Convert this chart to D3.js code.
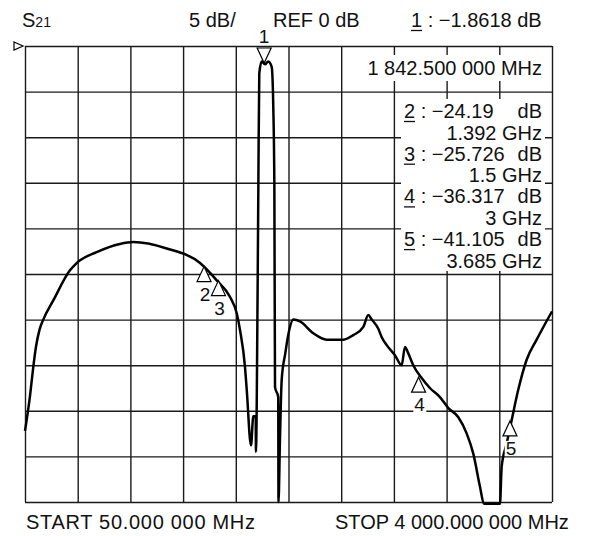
<!DOCTYPE html>
<html lang="en">
<head>
<meta charset="utf-8"/>
<title>S21 sweep</title>
<script src="https://d3js.org/d3.v7.min.js"></script>
<style>
  body { margin: 0; background: #fff; }
  svg { display: block; }
  svg text { font-family: "Liberation Sans", Arial, sans-serif; fill: #111; }
  .grid line { stroke: #1a1a1a; stroke-width: 1.4; }
  .grid .domain { display: none; }
  .trace { fill: none; stroke: #000; stroke-width: 2.5; stroke-linejoin: round; }
</style>
</head>
<body>
<div id="chart"></div>
<script>
// sweep, MHz / dB
var freqMHz = [50, 88, 112, 132, 159, 187, 262, 387, 437, 587, 762, 862, 1112, 1362, 1487, 1586, 1637, 1661,
  1699, 1712, 1744, 1761, 1779, 1781, 1794, 1799, 1806, 1824, 1849, 1873, 1899, 1911, 1919, 1924,
  1948, 1950, 1961, 1974, 2001, 2023, 2061, 2111, 2211, 2311, 2436, 2511, 2586, 2623, 2649, 2698,
  2723, 2761, 2823, 2873, 2898, 2923, 2960, 3023, 3085, 3160, 3223, 3298, 3361, 3410, 3460, 3490,
  3610, 3623, 3660, 3698, 3747, 3810, 3885, 4000];
var s21dB = [-42.2, -38.3, -35.2, -33.0, -31.1, -30.0, -27.9, -24.6, -23.8, -22.6, -21.7, -21.5, -22.2, -23.8, -25.7, -27.5, -29.3, -31.1,
  -35.2, -37.7, -43.8, -40.6, -40.6, -44.5, -25.7, -15.4, -3.0, -1.7, -2.0, -1.7, -2.3, -6.7, -15.4, -37.4,
  -38.5, -50.0, -43.2, -36.6, -33.7, -31.7, -30.0, -30.2, -31.5, -32.2, -32.2, -31.7, -30.8, -29.5, -30.0, -31.0,
  -31.9, -32.8, -33.9, -35.0, -33.0, -33.7, -35.0, -36.4, -37.5, -38.5, -39.7, -40.7, -42.5, -44.7, -48.3, -50.2,
  -50.2, -46.1, -43.6, -41.0, -37.7, -34.4, -32.2, -29.1];

var markerNo = ["1", "2", "3", "4", "5"];
var markerMHz = [1842.5, 1392, 1500, 3000, 3685];
var markerDb = [-1.8618, -24.19, -25.726, -36.317, -41.105];
var markerDbText = ["\u22121.8618", "\u221224.19", "\u221225.726", "\u221236.317", "\u221241.105"];
var markerFreqText = ["1 842.500 000 MHz", "1.392 GHz", "1.5 GHz", "3 GHz", "3.685 GHz"];

var xGrid = [50, 445, 840, 1235, 1630, 2025, 2420, 2815, 3210, 3605, 4000];
var yGrid = [0, -5, -10, -15, -20, -25, -30, -35, -40, -45, -50];

var width = 601, height = 536;
var m = {left: 25, right: 552, top: 46, bottom: 502};

var svg = d3.select("#chart").append("svg")
  .attr("width", width)
  .attr("height", height);

var x = d3.scaleLinear().domain([50, 4000]).range([m.left, m.right]);
var y = d3.scaleLinear().domain([0, -50]).range([m.top, m.bottom]);

// grid
svg.append("g")
  .attr("class", "grid")
  .attr("transform", "translate(0," + m.bottom + ")")
  .call(d3.axisBottom(x).tickValues(xGrid).tickSize(-(m.bottom - m.top)).tickFormat(""));
svg.append("g")
  .attr("class", "grid")
  .attr("transform", "translate(" + m.left + ",0)")
  .call(d3.axisLeft(y).tickValues(yGrid).tickSize(-(m.right - m.left)).tickFormat(""));

// reference level arrow
svg.append("path")
  .attr("d", "M" + (m.left - 11) + "," + (y(0) - 4) + "L" + (m.left - 2) + "," + y(0) + "L" + (m.left - 11) + "," + (y(0) + 4) + "Z")
  .attr("fill", "#fff").attr("stroke", "#000").attr("stroke-width", 1.2);

// readout boxes sit over the grid
svg.append("rect").attr("x", 352).attr("y", 55).attr("width", 193).attr("height", 26).attr("fill", "#fff");
svg.append("rect").attr("x", 401).attr("y", 99).attr("width", 144).attr("height", 172).attr("fill", "#fff");

// trace
var line = d3.line()
  .x(function(d, i) { return x(freqMHz[i]); })
  .y(function(d) { return y(d); })
  .curve(d3.curveMonotoneX);

svg.append("path")
  .datum(s21dB)
  .attr("class", "trace")
  .attr("d", line);

// markers
markerNo.forEach(function(n, i) {
  var mx = x(markerMHz[i]), my = y(markerDb[i]);
  var g = svg.append("g");
  if (i === 0) {
    g.append("path")
      .attr("d", "M" + (mx - 7) + "," + (my - 15) + "L" + (mx + 7) + "," + (my - 15) + "L" + mx + "," + my + "Z")
      .attr("fill", "none").attr("stroke", "#000").attr("stroke-width", 1.2);
    g.append("text").attr("x", mx).attr("y", my - 20)
      .attr("text-anchor", "middle").attr("font-size", 19).text(n);
  } else {
    var lbl = g.append("text").attr("x", mx + 1).attr("y", my + 34)
      .attr("text-anchor", "middle").attr("font-size", 19).text(n);
    var bb = lbl.node().getBBox();
    g.insert("rect", "text")
      .attr("x", bb.x - 1).attr("y", bb.y + 3).attr("width", bb.width + 2).attr("height", bb.height - 6)
      .attr("fill", "#fff");
    g.append("path")
      .attr("d", "M" + mx + "," + my + "L" + (mx + 7) + "," + (my + 15) + "L" + (mx - 7) + "," + (my + 15) + "Z")
      .attr("fill", "#fff").attr("stroke", "#000").attr("stroke-width", 1.2);
  }
});

// header
var hdr = svg.append("text").attr("x", 22).attr("y", 27).attr("font-size", 20);
hdr.append("tspan").text("S");
hdr.append("tspan").attr("font-size", 14).text("21");
svg.append("text").attr("x", 189).attr("y", 27).attr("font-size", 20).text("5 dB/");
svg.append("text").attr("x", 273).attr("y", 27).attr("font-size", 20).text("REF 0 dB");

function underline(x0, yb) {
  svg.append("line").attr("x1", x0).attr("x2", x0 + 11)
    .attr("y1", yb + 3.5).attr("y2", yb + 3.5)
    .attr("stroke", "#111").attr("stroke-width", 1.3);
}

svg.append("text").attr("x", 411).attr("y", 27).attr("font-size", 20)
  .text(markerNo[0] + " : " + markerDbText[0] + " dB");
underline(411, 27);
svg.append("text").attr("x", 542).attr("y", 75).attr("font-size", 20)
  .attr("text-anchor", "end").text(markerFreqText[0]);

for (var k = 1; k < markerNo.length; k++) {
  var yb = 118 + (k - 1) * 42.7;
  svg.append("text").attr("x", 404).attr("y", yb).attr("font-size", 20)
    .text(markerNo[k] + " : " + markerDbText[k]);
  svg.append("text").attr("x", 542).attr("y", yb).attr("font-size", 20)
    .attr("text-anchor", "end").text("dB");
  underline(404, yb);
  svg.append("text").attr("x", 542).attr("y", yb + 21.5).attr("font-size", 20)
    .attr("text-anchor", "end").text(markerFreqText[k]);
}

// footer
svg.append("text").attr("x", 26).attr("y", 529).attr("font-size", 20)
  .attr("letter-spacing", 0.7).text("START 50.000 000 MHz");
svg.append("text").attr("x", 335).attr("y", 529).attr("font-size", 20).text("STOP 4 000.000 000 MHz");
</script>
</body>
</html>
